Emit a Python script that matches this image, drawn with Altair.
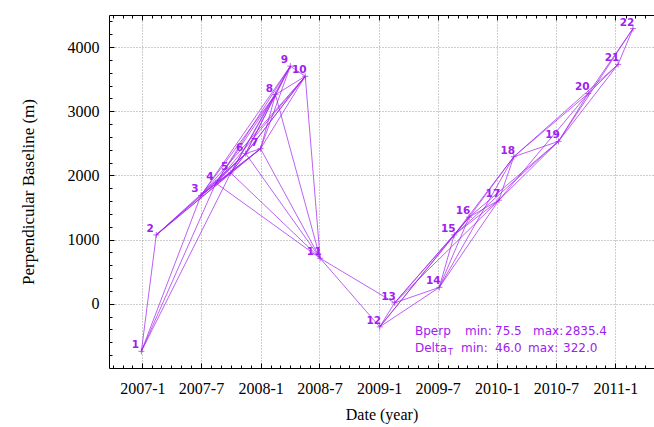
import altair as alt
import pandas as pd

# Acquisitions: scene number, acquisition date and perpendicular baseline (m)
scene_no = list(range(1, 23))
acq_date = [
    "2006-12-29", "2007-02-13", "2007-07-01", "2007-08-16", "2007-10-01",
    "2007-11-16", "2008-01-01", "2008-02-16", "2008-04-02", "2008-05-18",
    "2008-07-03", "2009-01-03", "2009-02-18", "2009-07-06", "2009-08-21",
    "2009-10-06", "2010-01-06", "2010-02-21", "2010-07-09", "2010-10-09",
    "2011-01-09", "2011-02-24",
]
bperp_m = [
    -740.0, 1073.0, 1690.0, 1881.0, 2040.0, 2341.5, 2417.0, 3260.0, 3703.0,
    3545.0, 709.6, -359.0, 15.0, 256.0, 1073.0, 1350.0, 1615.0, 2292.0,
    2531.0, 3277.0, 3730.0, 4288.0,
]

# Interferometric pairs (master, slave) of the network
pairs = [
    (1, 2), (1, 3), (1, 4), (1, 5),
    (2, 3), (2, 4), (2, 5), (2, 6), (2, 7),
    (3, 4), (3, 5), (3, 6), (3, 7), (3, 8), (3, 9), (3, 10),
    (4, 5), (4, 6), (4, 7), (4, 8), (4, 9), (4, 10), (4, 11),
    (5, 6), (5, 7), (5, 8), (5, 9), (5, 10), (5, 11),
    (6, 7), (6, 8), (6, 9), (6, 10), (6, 11),
    (7, 8), (7, 9), (7, 10), (7, 11),
    (8, 9), (8, 10), (8, 11),
    (9, 10), (10, 11),
    (11, 12), (11, 13),
    (12, 13), (12, 14), (12, 15), (12, 16),
    (13, 14), (13, 15), (13, 16), (13, 17),
    (14, 15), (14, 16), (14, 17), (14, 18),
    (15, 16), (15, 17), (15, 18), (15, 19),
    (16, 17), (16, 18), (16, 19),
    (17, 18), (17, 19), (17, 20),
    (18, 19), (18, 20), (18, 21),
    (19, 20), (19, 21), (19, 22),
    (20, 21), (20, 22),
    (21, 22),
]

# Network statistics shown in the annotation
bperp_min, bperp_max = 75.5, 2835.4
dt_min, dt_max = 46.0, 322.0

# Axis ticks and ranges
x_major = ["2007-01-01", "2007-07-01", "2008-01-01", "2008-07-01", "2009-01-01",
           "2009-07-01", "2010-01-01", "2010-07-01", "2011-01-01"]
x_range = ["2006-09-20", "2011-04-30"]
y_major = [0, 1000, 2000, 3000, 4000]
y_minor = list(range(-800, 4500, 200))
y_range = [-1000, 4500]

PURPLE = "#A020F0"
W, H = 545, 353
SERIF = "Liberation Serif"
SANS = "DejaVu Sans"


def utc_day(s):
    y, m, d = (int(v) for v in s.split("-"))
    return alt.DateTime(year=y, month=m, date=d, utc=True)


scenes = pd.DataFrame({"n": scene_no, "date": acq_date, "bperp": bperp_m})
lookup = {n: (d, b) for n, d, b in zip(scene_no, acq_date, bperp_m)}
edges = pd.DataFrame(
    [{"d1": lookup[a][0], "b1": lookup[a][1], "d2": lookup[b][0], "b2": lookup[b][1]}
     for a, b in pairs]
)

xs = alt.Scale(type="utc", domain=[utc_day(x_range[0]), utc_day(x_range[1])])
ys = alt.Scale(domain=y_range, nice=False, zero=False)
x_major_dt = [utc_day(s) for s in x_major]

# Main axes: labels, grid and the left/bottom frame
x_main = alt.Axis(
    orient="bottom", values=x_major_dt, labelExpr="utcFormat(datum.value, '%Y-%-m')",
    grid=True, gridDash=[1, 2], gridColor="#9a9a9a", gridWidth=1,
    ticks=False, domain=True, domainColor="black", domainWidth=1,
    labelFont=SERIF, labelFontSize=16, labelColor="black", labelPadding=12,
    labelFlush=False, labelOverlap=False,
    title="Date (year)", titleFont=SERIF, titleFontSize=16, titleFontWeight="normal",
    titleColor="black", titlePadding=10,
)
y_main = alt.Axis(
    orient="left", values=y_major, format="d", grid=True, gridDash=[1, 2],
    gridColor="#9a9a9a", gridWidth=1, ticks=False, domain=True, domainColor="black",
    domainWidth=1, labelFont=SERIF, labelFontSize=16, labelColor="black", labelPadding=10,
    title="Perpendicular Baseline (m)", titleFont=SERIF, titleFontSize=17,
    titleFontWeight="normal", titleColor="black", titlePadding=30,
)


def inner_ticks(orient, offset, size, **kw):
    return alt.Axis(orient=orient, offset=offset, tickSize=size, tickColor="black",
                    labels=False, domain=False, grid=False, title=None, **kw)


month_step = alt.TimeIntervalStep(interval="month", step=1)

edge_layer = alt.Chart(edges).mark_rule(color=PURPLE, strokeWidth=0.75, opacity=0.95).encode(
    x=alt.X("d1:T", scale=xs, axis=x_main),
    x2="d2:T",
    y=alt.Y("b1:Q", scale=ys, axis=y_main),
    y2="b2:Q",
)

point_layer = alt.Chart(scenes).mark_point(
    shape="M-1,0L1,0M0,-1L0,1", filled=False, color=PURPLE, strokeWidth=1, size=36
).encode(
    x=alt.X("date:T", scale=xs, axis=inner_ticks("top", -H, 5, values=x_major_dt)),
    y=alt.Y("bperp:Q", scale=ys, axis=inner_ticks("right", -W, 5, values=y_major)),
)

label_layer = alt.Chart(scenes).mark_text(
    color=PURPLE, font=SANS, fontSize=10.5, fontWeight="bold", dx=-6, dy=-6,
    align="center", baseline="middle",
).encode(
    x=alt.X("date:T", scale=xs, axis=inner_ticks("top", -H, 3, tickCount=month_step)),
    y=alt.Y("bperp:Q", scale=ys, axis=inner_ticks("right", -W, 3, values=y_minor)),
    text="n:N",
)

# Top frame with inward ticks
top_major = alt.Chart(scenes).mark_point(opacity=0).encode(
    x=alt.X("date:T", scale=xs, axis=alt.Axis(
        orient="bottom", offset=-H, values=x_major_dt, tickSize=5, tickColor="black",
        labels=False, grid=False, domain=True, domainColor="black", domainWidth=1,
        title=None)),
    y=alt.Y("bperp:Q", scale=ys, axis=None),
)
top_minor = alt.Chart(scenes).mark_point(opacity=0).encode(
    x=alt.X("date:T", scale=xs, axis=inner_ticks("bottom", -H, 3, tickCount=month_step)),
    y=alt.Y("bperp:Q", scale=ys, axis=None),
)


def note(text, x, y, size=12):
    return alt.Chart(pd.DataFrame({"t": [text]})).mark_text(
        color=PURPLE, font=SANS, fontSize=size, align="left", baseline="middle"
    ).encode(text="t:N", x=alt.value(x), y=alt.value(y))


row1, row2 = 316, 333
notes = [
    note("Bperp", 306, row1), note("min:", 356, row1), note(f"{bperp_min:.1f}", 386, row1),
    note("max:", 424, row1), note(f"{bperp_max:.1f}", 456, row1),
    note("Delta", 306, row2), note("T", 339, row2 + 5, size=8), note("min:", 352, row2),
    note(f"{dt_min:.1f}", 386, row2), note("max:", 419, row2), note(f"{dt_max:.1f}", 454, row2),
]

chart = alt.layer(
    edge_layer, point_layer, label_layer, top_major, top_minor, *notes
).resolve_axis(x="independent", y="independent").properties(
    width=W, height=H,
    padding={"left": 109, "top": 15, "right": 0, "bottom": 59},
    autosize=alt.AutoSizeParams(type="none"),
    background="white",
).configure_view(stroke=None).configure_axis(
    labelFont=SERIF, titleFont=SERIF
)

chart.save("out.html", embed_options={"renderer": "svg", "actions": False})
